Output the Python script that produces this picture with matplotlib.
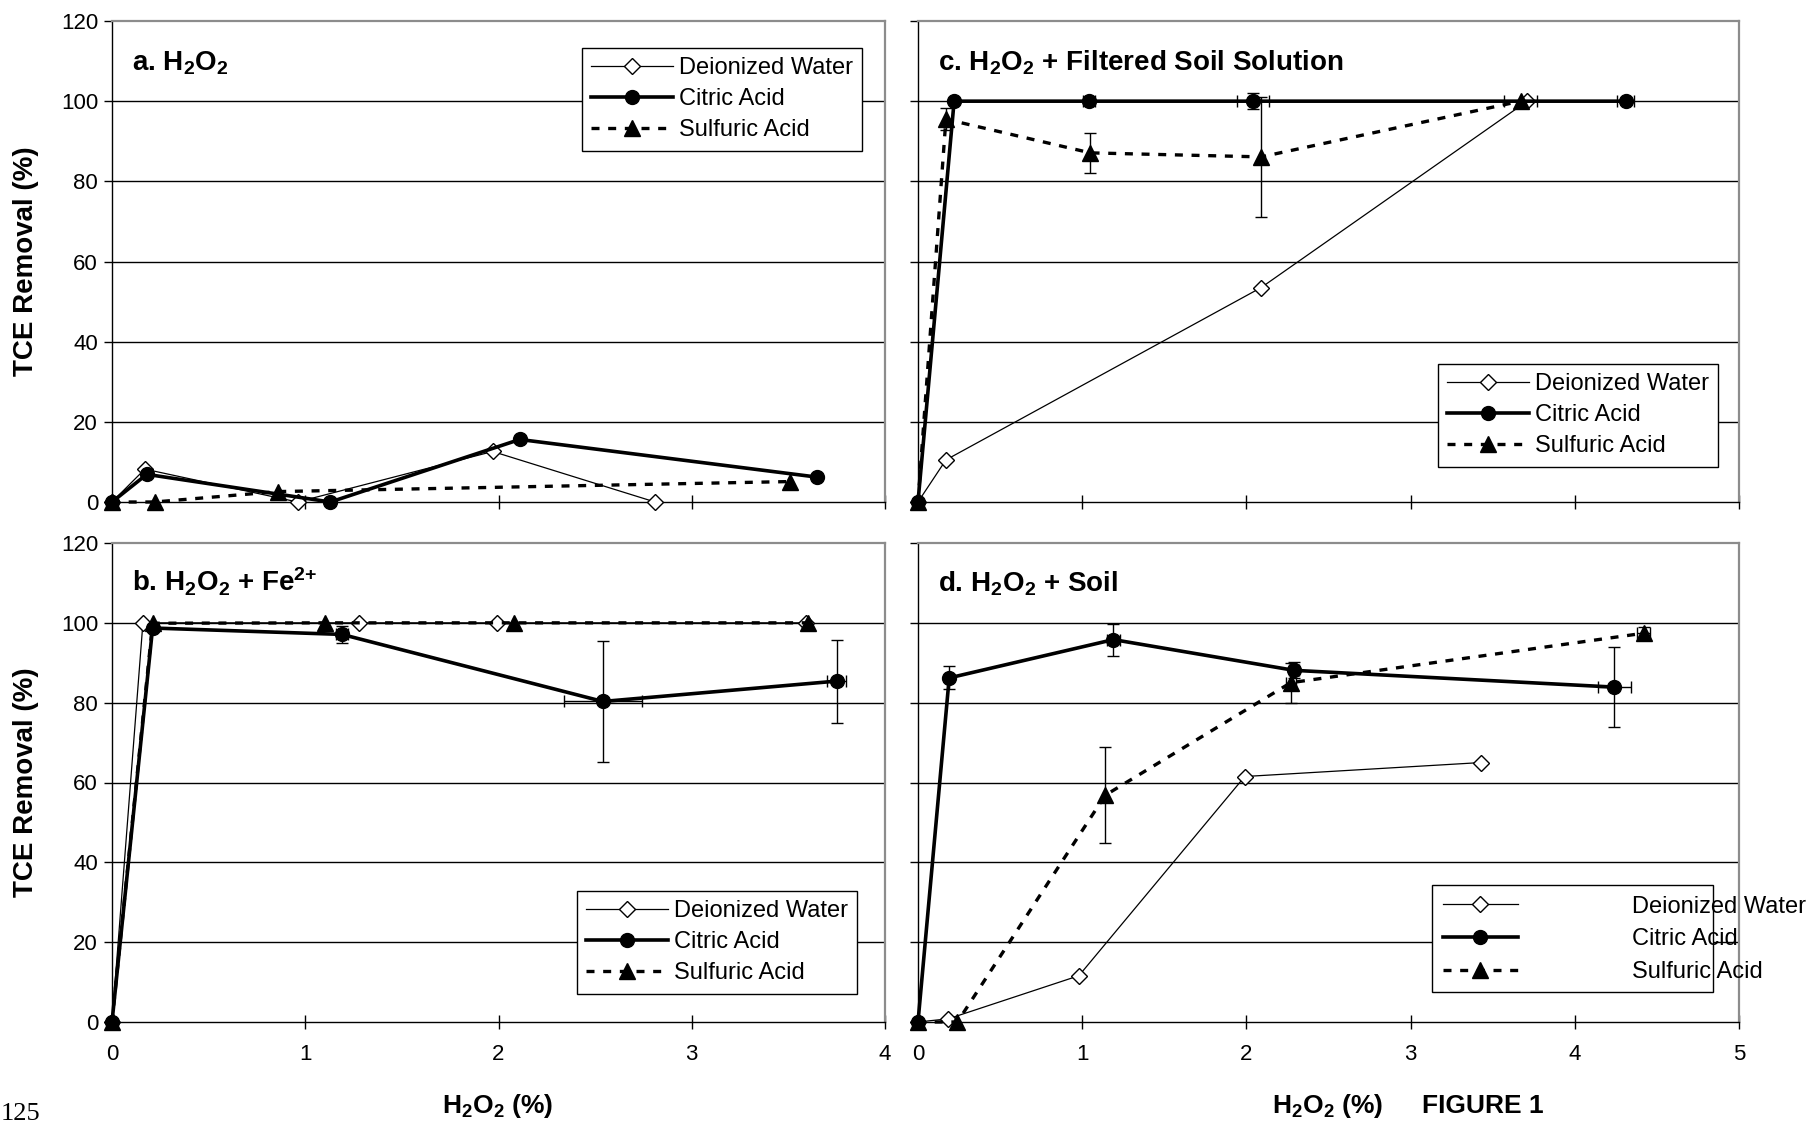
import numpy as np
import matplotlib
matplotlib.use('Agg')
import matplotlib.pyplot as plt
from matplotlib.patches import Rectangle

plt.rcParams['font.family'] = ['Liberation Sans', 'DejaVu Sans']
plt.rcParams['mathtext.default'] = 'regular'

LABELS = ['Deionized Water', 'Citric Acid', 'Sulfuric Acid']
Y_TICKS = [0, 20, 40, 60, 80, 100, 120]

# a. H2O2
a_di_x = [0, 0.17, 0.96, 1.97, 2.81]
a_di_y = [0, 8.2, 0, 12.6, 0]
a_ca_x = [0, 0.18, 1.13, 2.11, 3.65]
a_ca_y = [0, 6.9, 0, 15.6, 6.2]
a_sa_x = [0, 0.22, 0.86, 3.51]
a_sa_y = [0, 0, 2.6, 5.1]

# b. H2O2 + Fe2+
b_di_x = [0, 0.16, 1.28, 1.99, 3.59]
b_di_y = [0, 100, 100, 100, 100]
b_ca_x = [0, 0.21, 1.19, 2.54, 3.75]
b_ca_y = [0, 98.7, 97.1, 80.3, 85.4]
b_ca_yerr = [0, 0, 2.2, 15.2, 10.4]
b_ca_xerr = [0, 0, 0.03, 0.2, 0.05]
b_sa_x = [0, 0.21, 1.10, 2.08, 3.60]
b_sa_y = [0, 99.9, 100, 100, 100]

# c. H2O2 + filtered soil solution
c_di_x = [0, 0.17, 2.09, 3.71]
c_di_y = [0, 10.5, 53.5, 100]
c_ca_x = [0, 0.22, 1.04, 2.04, 4.31]
c_ca_y = [0, 100, 100, 100, 100]
c_ca_yerr = [0, 0, 0, 2, 0]
c_ca_xerr = [0, 0, 0.035, 0.1, 0.05]
c_sa_x = [0, 0.17, 1.05, 2.09, 3.67]
c_sa_y = [0, 95.5, 87.1, 86.1, 100]
c_sa_yerr = [0, 2.8, 5, 15, 0]
c_sa_xerr = [0, 0, 0, 0, 0.1]

# d. H2O2 + soil
d_di_x = [0, 0.185, 0.98, 1.99, 3.43]
d_di_y = [0, 0.8, 11.6, 61.5, 65]
d_ca_x = [0, 0.19, 1.19, 2.29, 4.24]
d_ca_y = [0, 86.2, 95.8, 88.1, 83.9]
d_ca_yerr = [0, 2.9, 4, 2, 10]
d_ca_xerr = [0, 0, 0.04, 0.03, 0.1]
d_sa_x = [0, 0.24, 1.14, 2.27, 4.42]
d_sa_y = [0, 0, 56.8, 85, 97.4]
d_sa_yerr = [0, 0, 12, 5, 1.5]
d_sa_xerr = [0, 0, 0, 0.03, 0.04]

W, H = 1815, 1126

STYLES = [
    dict(color='black', lw=0.9, marker='D', ms=8, mfc='white', mec='black', mew=1.0, zorder=3),
    dict(color='black', lw=2.6, marker='o', ms=10, mfc='black', mec='black', zorder=4),
    dict(color='black', lw=2.4, ls=(0, (2.4, 2.6)), marker='^', ms=11, mfc='black', mec='black', zorder=5),
]


def px_axes(left, top, right, bottom):
    return [left / W, 1 - bottom / H, (right - left) / W, (bottom - top) / H]


def err(ax, x, y, yerr=None, xerr=None):
    x = np.asarray(x, float)
    y = np.asarray(y, float)
    kw = dict(fmt='none', ecolor='black', elinewidth=1, capsize=4, capthick=1, zorder=6, clip_on=False)
    if yerr is not None:
        e = np.asarray(yerr, float)
        m = e > 0
        if m.any():
            ax.errorbar(x[m], y[m], yerr=e[m], **kw)
    if xerr is not None:
        e = np.asarray(xerr, float)
        m = e > 0
        if m.any():
            ax.errorbar(x[m], y[m], xerr=e[m], **kw)


def setup(ax, xmax, title, left_labels, bottom_labels, width_px):
    ax.set_xlim(0, xmax)
    ax.set_ylim(0, 120)
    ax.set_yticks(Y_TICKS)
    ax.set_xticks(range(0, xmax + 1))
    for y in Y_TICKS[1:-1]:
        ax.axhline(y, color='black', lw=1.0, zorder=1)
    ax.spines['left'].set_color('black')
    ax.spines['bottom'].set_color('black')
    ax.spines['left'].set_linewidth(1.0)
    ax.spines['bottom'].set_linewidth(1.0)
    for s in ['top', 'right']:
        ax.spines[s].set_color('#8c8c8c')
        ax.spines[s].set_linewidth(1.6)
    ax.tick_params(axis='y', direction='out', length=6, width=1, pad=4,
                   labelsize=16, labelleft=left_labels)
    ax.tick_params(axis='x', direction='inout', length=10, width=1, pad=11,
                   labelsize=16, labelbottom=bottom_labels)
    ax.text(20 / width_px, 0.898, title, transform=ax.transAxes,
            fontsize=20, fontweight='bold', ha='left', va='baseline')
    if left_labels:
        ax.set_ylabel('TCE Removal (%)', fontsize=20, fontweight='bold')
        ax.yaxis.set_label_coords(-0.094, 0.5)


def draw(ax, xs, ys):
    handles = []
    for x, y, st in zip(xs, ys, STYLES):
        ln, = ax.plot(x, y, clip_on=False, **st)
        handles.append(ln)
    return handles


def legend(ax, handles, left, top, **kw):
    opts = dict(loc='upper left', bbox_to_anchor=(left / W, 1 - top / H),
                bbox_transform=ax.figure.transFigure, borderaxespad=0,
                fontsize=17, handlelength=3.45, handletextpad=0.25,
                labelspacing=0.38, borderpad=0.4, numpoints=1,
                fancybox=False, framealpha=1, edgecolor='black')
    opts.update(kw)
    lg = ax.legend(handles, LABELS, **opts)
    lg.get_frame().set_linewidth(1.0)
    lg.set_zorder(10)
    return lg


fig = plt.figure(figsize=(W / 100, H / 100), dpi=100)

ax_a = fig.add_axes(px_axes(112, 21, 885, 502))
ax_c = fig.add_axes(px_axes(918, 21, 1739, 502))
ax_b = fig.add_axes(px_axes(112, 543, 885, 1022))
ax_d = fig.add_axes(px_axes(918, 543, 1739, 1022))

setup(ax_a, 4, 'a. H$_2$O$_2$', True, False, 773)
setup(ax_c, 5, 'c. H$_2$O$_2$ + Filtered Soil Solution', False, False, 821)
setup(ax_b, 4, 'b. H$_2$O$_2$ + Fe$^{2{+}}$', True, True, 773)
setup(ax_d, 5, 'd. H$_2$O$_2$ + Soil', False, True, 821)

h = draw(ax_a, [a_di_x, a_ca_x, a_sa_x], [a_di_y, a_ca_y, a_sa_y])
legend(ax_a, h, 582, 48)

h = draw(ax_b, [b_di_x, b_ca_x, b_sa_x], [b_di_y, b_ca_y, b_sa_y])
err(ax_b, b_ca_x, b_ca_y, b_ca_yerr, b_ca_xerr)
legend(ax_b, h, 577, 891)

h = draw(ax_c, [c_di_x, c_ca_x, c_sa_x], [c_di_y, c_ca_y, c_sa_y])
err(ax_c, c_ca_x, c_ca_y, c_ca_yerr, c_ca_xerr)
err(ax_c, c_sa_x, c_sa_y, c_sa_yerr, c_sa_xerr)
legend(ax_c, h, 1438, 364)

h = draw(ax_d, [d_di_x, d_ca_x, d_sa_x], [d_di_y, d_ca_y, d_sa_y])
err(ax_d, d_ca_x, d_ca_y, d_ca_yerr, d_ca_xerr)
err(ax_d, d_sa_x, d_sa_y, d_sa_yerr, d_sa_xerr)
# legend box in d is narrower than its text (as in the original)
box = Rectangle((1432 / W, 1 - 992 / H), (1713 - 1432) / W, (992 - 885) / H,
                transform=fig.transFigure, facecolor='white', edgecolor='black',
                lw=1.0, zorder=8, clip_on=False)
ax_d.add_patch(box)
legend(ax_d, h, 1432, 885, frameon=False, handlelength=3.2, handletextpad=4.8,
       borderpad=0.45, labelspacing=0.45)

fig.text(498 / W, 1 - 1113 / H, 'H$_2$O$_2$ (%)', fontsize=19, fontweight='bold',
         ha='center', va='baseline')
fig.text(1272 / W, 1 - 1113 / H, 'H$_2$O$_2$ (%)', fontsize=19, fontweight='bold',
         ha='left', va='baseline')
fig.text(1422 / W, 1 - 1113 / H, 'FIGURE 1', fontsize=19, fontweight='bold',
         ha='left', va='baseline')
fig.text(1 / W, 1 / H, '125', fontsize=19, family='Liberation Serif',
         ha='left', va='bottom')

fig.savefig('out.png', dpi=100)
